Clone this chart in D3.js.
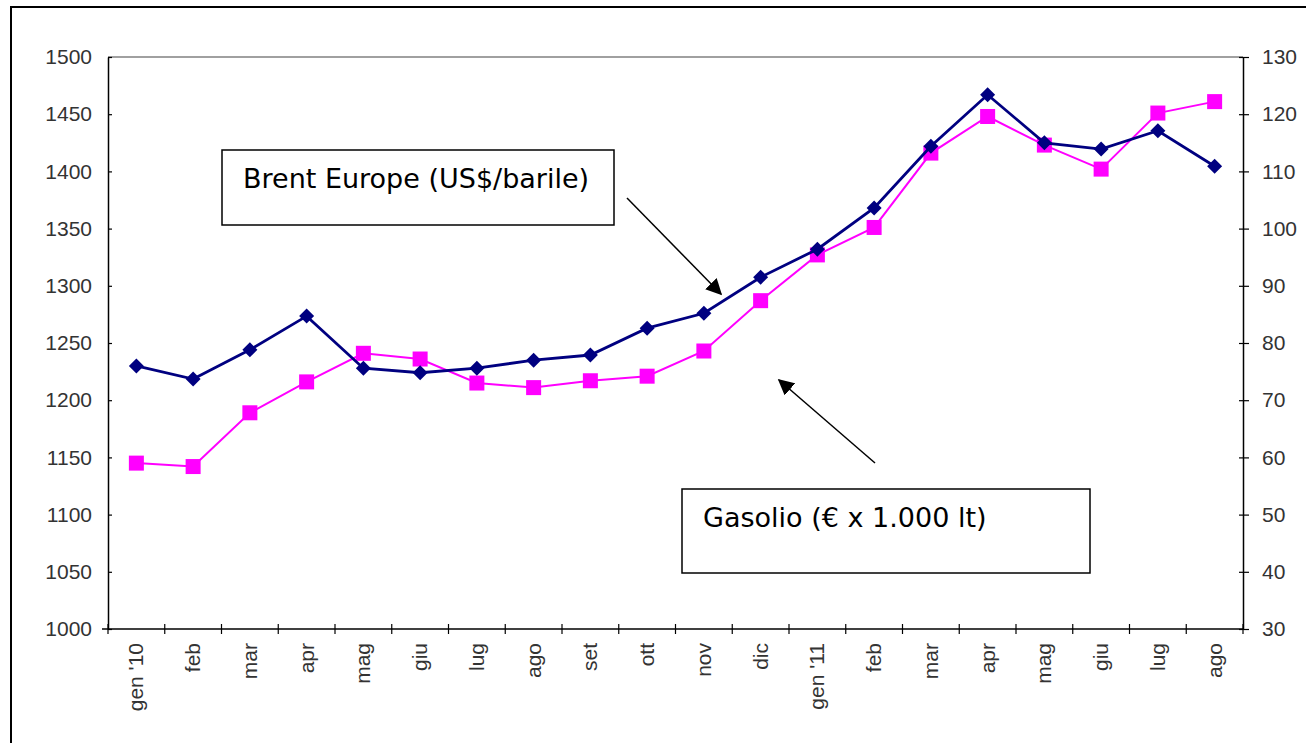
<!DOCTYPE html>
<html>
<head>
<meta charset="utf-8">
<script src="https://cdn.jsdelivr.net/npm/d3@7"></script>
<style>
  body { margin: 0; background: #fff; }
  svg { display: block; }
</style>
</head>
<body>
<div id="chart"></div>
<script>
// Months, Jan 2010 - Aug 2011
const months = ['gen \'10', 'feb', 'mar', 'apr', 'mag', 'giu', 'lug', 'ago', 'set', 'ott', 'nov', 'dic',
  'gen \'11', 'feb', 'mar', 'apr', 'mag', 'giu', 'lug', 'ago'];

// Gasolio (€ x 1.000 lt) - left axis
const gasolio = [1145, 1142, 1189, 1216, 1241, 1236, 1215, 1211, 1217, 1221, 1243, 1287,
  1327, 1351, 1416, 1448, 1423, 1402, 1451, 1461];

// Brent Europe (US$/barile) - right axis
const brent = [76.0, 73.7, 78.8, 84.7, 75.6, 74.8, 75.6, 77.0, 77.9, 82.6, 85.2, 91.5,
  96.4, 103.6, 114.4, 123.4, 115.0, 113.9, 117.1, 110.9];

const leftTicks = [1000, 1050, 1100, 1150, 1200, 1250, 1300, 1350, 1400, 1450, 1500];
const rightTicks = [30, 40, 50, 60, 70, 80, 90, 100, 110, 120, 130];

const width = 1306, height = 743;
const plot = { left: 108, right: 1243, top: 57, bottom: 629 };

const svg = d3.select('#chart').append('svg')
  .attr('width', width)
  .attr('height', height);

// outer frame (only left and top visible)
svg.append('path')
  .attr('d', `M11,${height} L11,7 L${width},7`)
  .attr('fill', 'none')
  .attr('stroke', '#000')
  .attr('stroke-width', 2);

const x = d3.scaleBand()
  .domain(d3.range(months.length))
  .range([plot.left, plot.right]);

const yL = d3.scaleLinear().domain([1000, 1500]).range([plot.bottom, plot.top]);
const yR = d3.scaleLinear().domain([30, 130]).range([plot.bottom, plot.top]);

// top border of plot area
svg.append('line')
  .attr('x1', plot.left).attr('x2', plot.right)
  .attr('y1', plot.top).attr('y2', plot.top)
  .attr('stroke', '#808080').attr('stroke-width', 1.5);

const fontFam = '"Liberation Sans", Arial, sans-serif';
const tickFont = '21px';

// left axis
const leftAxis = svg.append('g')
  .attr('transform', `translate(${plot.left},0)`)
  .call(d3.axisLeft(yL).tickValues(leftTicks).tickFormat(d3.format('d'))
    .tickSizeInner(6).tickSizeOuter(0).tickPadding(10));
leftAxis.selectAll('.tick line').attr('x2', 4);

// right axis
const rightAxis = svg.append('g')
  .attr('transform', `translate(${plot.right},0)`)
  .call(d3.axisRight(yR).tickValues(rightTicks).tickFormat(d3.format('d'))
    .tickSizeInner(6).tickSizeOuter(0).tickPadding(13));
rightAxis.selectAll('.tick line').attr('x2', -4).attr('x1', 6);

// bottom axis, ticks on band boundaries
const bottomAxis = svg.append('g')
  .attr('transform', `translate(0,${plot.bottom})`);
bottomAxis.append('line')
  .attr('x1', plot.left - 6).attr('x2', plot.right)
  .attr('stroke', '#000').attr('stroke-width', 1.5);
bottomAxis.selectAll('.btick')
  .data(d3.range(months.length + 1))
  .enter().append('line')
  .attr('x1', i => plot.left + i * x.step())
  .attr('x2', i => plot.left + i * x.step())
  .attr('y1', -5).attr('y2', 5)
  .attr('stroke', '#000').attr('stroke-width', 1.2);
bottomAxis.selectAll('.blabel')
  .data(months)
  .enter().append('text')
  .attr('transform', (d, i) => `translate(${x(i) + x.bandwidth() / 2 + 7},14) rotate(-90)`)
  .attr('text-anchor', 'end')
  .style('font-family', fontFam)
  .style('font-size', tickFont)
  .style('fill', '#333')
  .text(d => d);

[leftAxis, rightAxis].forEach(g => {
  g.select('.domain').attr('stroke', '#000').attr('stroke-width', 1.5);
  g.selectAll('.tick line').attr('stroke', '#000').attr('stroke-width', 1.2);
  g.selectAll('.tick text')
    .style('font-family', fontFam)
    .style('font-size', tickFont)
    .style('fill', '#333');
});

const cx = i => x(i) + x.bandwidth() / 2;

// Gasolio line
svg.append('path')
  .datum(gasolio)
  .attr('fill', 'none')
  .attr('stroke', '#ff00ff')
  .attr('stroke-width', 2)
  .attr('d', d3.line().x((d, i) => cx(i)).y(d => yL(d)));

svg.selectAll('.sq')
  .data(gasolio)
  .enter().append('rect')
  .attr('x', (d, i) => cx(i) - 7.5)
  .attr('y', d => yL(d) - 7.5)
  .attr('width', 15).attr('height', 15)
  .attr('fill', '#ff00ff');

// Brent line
svg.append('path')
  .datum(brent)
  .attr('fill', 'none')
  .attr('stroke', '#000080')
  .attr('stroke-width', 2.8)
  .attr('d', d3.line().x((d, i) => cx(i)).y(d => yR(d)));

const dr = 7.5;
svg.selectAll('.dm')
  .data(brent)
  .enter().append('path')
  .attr('d', `M0,${-dr} L${dr},0 L0,${dr} L${-dr},0 Z`)
  .attr('transform', (d, i) => `translate(${cx(i)},${yR(d)})`)
  .attr('fill', '#000080');

// annotation boxes
const boxes = [
  { x: 222, y: 150, w: 392, h: 75, label: 'Brent Europe (US$/barile)' },
  { x: 682, y: 489, w: 408, h: 84, label: 'Gasolio (€ x 1.000 lt)' }
];
boxes.forEach(b => {
  svg.append('rect')
    .attr('x', b.x).attr('y', b.y)
    .attr('width', b.w).attr('height', b.h)
    .attr('fill', '#fff')
    .attr('stroke', '#000').attr('stroke-width', 1.5);
  svg.append('text')
    .attr('x', b.x + 21).attr('y', b.y + 38)
    .style('font-family', '"DejaVu Sans", Verdana, sans-serif')
    .style('font-size', '27px')
    .style('fill', '#000')
    .text(b.label);
});

// arrows
svg.append('defs').append('marker')
  .attr('id', 'arrow')
  .attr('viewBox', '0 0 10 10')
  .attr('refX', 9).attr('refY', 5)
  .attr('markerWidth', 16).attr('markerHeight', 16)
  .attr('markerUnits', 'userSpaceOnUse')
  .attr('orient', 'auto')
  .append('path')
  .attr('d', 'M0,0 L10,5 L0,10 Z')
  .attr('fill', '#000');

const arrows = [
  [[627, 198], [721, 294]],
  [[875, 463], [779, 380]]
];
arrows.forEach(([a, b]) => {
  svg.append('line')
    .attr('x1', a[0]).attr('y1', a[1])
    .attr('x2', b[0]).attr('y2', b[1])
    .attr('stroke', '#000').attr('stroke-width', 1.5)
    .attr('marker-end', 'url(#arrow)');
});
</script>
</body>
</html>
